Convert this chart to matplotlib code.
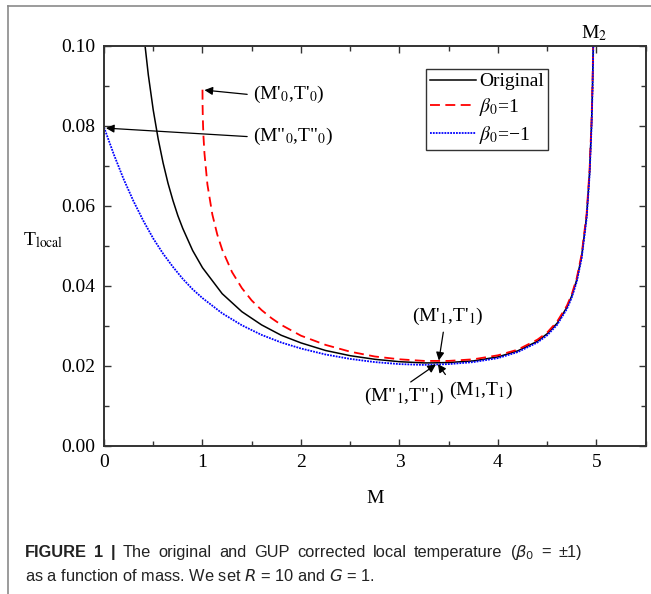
import matplotlib
matplotlib.use('Agg')
import matplotlib.pyplot as plt
from matplotlib.ticker import MultipleLocator
from matplotlib.lines import Line2D

plt.rcParams['font.family'] = ['Liberation Serif', 'DejaVu Serif']
plt.rcParams['mathtext.fontset'] = 'stix'

# local temperature (R = 10, G = 1)
m_orig = [0.40, 0.45, 0.50, 0.55, 0.60, 0.65, 0.70, 0.75, 0.80, 0.90, 1.00, 1.20, 1.40, 1.60,
          1.80, 2.00, 2.25, 2.50, 2.75, 3.00, 3.25, 3.333, 3.50, 3.75, 4.00, 4.20, 4.40,
          4.50, 4.60, 4.70, 4.75, 4.80, 4.85, 4.90, 4.93, 4.95, 4.96, 4.97, 4.98]
t_orig = [0.1037, 0.0927, 0.0839, 0.0767, 0.0707, 0.0656, 0.0613, 0.0575, 0.0543, 0.0488,
          0.0445, 0.0380, 0.0335, 0.0302, 0.0276, 0.0257, 0.0238, 0.0225, 0.0216, 0.0210,
          0.0207, 0.0207, 0.0208, 0.0212, 0.0222, 0.0237, 0.0261, 0.0280, 0.0306, 0.0346,
          0.0375, 0.0415, 0.0474, 0.0574, 0.0682, 0.0804, 0.0897, 0.1034, 0.1263]

# beta0 = 1
m_pos = [1.000, 1.001, 1.003, 1.006, 1.01, 1.02, 1.05, 1.10, 1.15, 1.20, 1.30, 1.40, 1.50,
         1.60, 1.70, 1.80, 2.00, 2.25, 2.50, 2.75, 3.00, 3.25, 3.50, 3.75, 4.00, 4.20,
         4.40, 4.50, 4.60, 4.70, 4.75, 4.80, 4.85, 4.90, 4.93, 4.95, 4.96, 4.97]
t_pos = [0.0890, 0.0851, 0.0824, 0.0798, 0.0773, 0.0731, 0.0653, 0.0578, 0.0528, 0.0490,
         0.0434, 0.0394, 0.0363, 0.0339, 0.0319, 0.0302, 0.0275, 0.0252, 0.0235, 0.0223,
         0.0216, 0.0212, 0.0212, 0.0216, 0.0226, 0.0240, 0.0265, 0.0283, 0.0310, 0.0350,
         0.0379, 0.0419, 0.0479, 0.0580, 0.0689, 0.0812, 0.0906, 0.1044]

# beta0 = -1
m_neg = [0.00, 0.10, 0.20, 0.30, 0.40, 0.50, 0.60, 0.70, 0.80, 0.90, 1.00, 1.20, 1.40, 1.60,
         1.80, 2.00, 2.25, 2.50, 2.75, 3.00, 3.25, 3.50, 3.75, 4.00, 4.20, 4.40, 4.50,
         4.60, 4.70, 4.75, 4.80, 4.85, 4.90, 4.93, 4.95, 4.96, 4.97]
t_neg = [0.0796, 0.0728, 0.0666, 0.0611, 0.0562, 0.0518, 0.0480, 0.0447, 0.0417, 0.0391,
         0.0369, 0.0331, 0.0301, 0.0277, 0.0258, 0.0243, 0.0228, 0.0217, 0.0209, 0.0204,
         0.0202, 0.0204, 0.0209, 0.0219, 0.0234, 0.0258, 0.0276, 0.0302, 0.0342, 0.0371,
         0.0410, 0.0469, 0.0568, 0.0675, 0.0796, 0.0888, 0.1023]

labels = ['Original', r'$\beta_0$=1', r'$\beta_0$=−1']

fig = plt.figure(figsize=(6.51, 5.94), dpi=100)
ax = fig.add_axes([104 / 651, 1 - 445.7 / 594, 541.7 / 651, 400 / 594])

ax.plot(m_orig, t_orig, color='black', lw=1.1, label=labels[0])
ax.plot(m_pos, t_pos, color='red', lw=1.3, ls=(0, (5.5, 3)), label=labels[1])
ax.plot(m_neg, t_neg, color='blue', lw=1.3, ls=(0, (1, 0.6)), label=labels[2])

ax.set_xlim(0, 5.5)
ax.set_ylim(0, 0.10)
ax.xaxis.set_major_locator(MultipleLocator(1))
ax.xaxis.set_minor_locator(MultipleLocator(0.5))
ax.yaxis.set_major_locator(MultipleLocator(0.02))
ax.yaxis.set_minor_locator(MultipleLocator(0.01))
ax.yaxis.set_major_formatter(plt.FormatStrFormatter('%.2f'))
ax.tick_params(which='both', direction='in', top=True, right=True, width=1.0, colors='#333333',
               labelcolor='black', labelsize=14)
ax.tick_params(which='major', length=5, pad=6)
ax.tick_params(which='minor', length=3.5)
for s in ax.spines.values():
    s.set_linewidth(1.4)
    s.set_color('#333333')

ax.set_xlabel('M', fontsize=14, labelpad=14)
ax.set_ylabel(r'T$_{\rm local}$', fontsize=14, rotation=0)
ax.yaxis.set_label_coords(-0.113, 0.49)

leg = ax.legend(loc='upper left', bbox_to_anchor=(0.594, 0.942), borderaxespad=0,
                fontsize=14, frameon=True, fancybox=False, handlelength=2.4,
                handletextpad=0.15, labelspacing=0.3, borderpad=0.2)
leg.get_frame().set_edgecolor('black')
leg.get_frame().set_linewidth(1.0)

arrow = dict(arrowstyle='-|>', color='black', lw=0.9, mutation_scale=12, shrinkA=2, shrinkB=0)
ax.annotate("(M'$_0$,T'$_0$)", xy=(1.02, 0.0889), xytext=(1.51, 0.0877), fontsize=14,
            ha='left', va='center', arrowprops=dict(arrow, relpos=(0, 0.5)))
ax.annotate('(M"$_0$,T"$_0$)', xy=(0.02, 0.0794), xytext=(1.51, 0.0772), fontsize=14,
            ha='left', va='center', arrowprops=dict(arrow, relpos=(0, 0.5)))
ax.annotate("(M'$_1$,T'$_1$)", xy=(3.40, 0.0213), xytext=(3.49, 0.0324), fontsize=14,
            ha='center', va='center', arrowprops=dict(arrow, relpos=(0.45, 0)))
ax.annotate('(M"$_1$,T"$_1$)', xy=(3.37, 0.0203), xytext=(3.05, 0.0122), fontsize=14,
            ha='center', va='center', arrowprops=dict(arrow, relpos=(0.5, 1)))
ax.annotate('(M$_1$,T$_1$)', xy=(3.39, 0.0204), xytext=(3.83, 0.0139), fontsize=14,
            ha='center', va='center', arrowprops=dict(arrow, relpos=(0, 1)))
ax.text(4.98, 0.1006, 'M$_2$', fontsize=14, ha='center', va='bottom')

# grey page frame
fig.add_artist(Line2D([8 / 651, 8 / 651], [0, 1 - 6 / 594], color='#8a8a8a', lw=1.2))
fig.add_artist(Line2D([8 / 651, 1], [1 - 6 / 594, 1 - 6 / 594], color='#8a8a8a', lw=1.2))

# caption: first line justified between x=25 and x=582 px, second line left aligned
cap = dict(fontsize=11.8, family=['Liberation Sans', 'DejaVu Sans'],
           math_fontfamily='dejavusans', va='baseline', color='#222222')
words = [('FIGURE', 'bold'), ('1', 'bold'), ('|', 'bold'), ('The', 'normal'),
         ('original', 'normal'), ('and', 'normal'), ('GUP', 'normal'), ('corrected', 'normal'),
         ('local', 'normal'), ('temperature', 'normal'), (r'($\beta_0$', 'normal'),
         ('=', 'normal'), ('±1)', 'normal')]
fig.canvas.draw()
renderer = fig.canvas.get_renderer()
items = []
for w, weight in words:
    t = fig.text(0, 1 - 557 / 594, w, fontweight=weight, **cap)
    items.append((t, t.get_window_extent(renderer).width))
gap = (582 - 25 - sum(wd for _, wd in items)) / (len(items) - 1)
x = 25.0
for t, wd in items:
    t.set_x(x / 651)
    x += wd + gap
fig.text(25 / 651, 1 - 581 / 594, r'as a function of mass. We set $R$ = 10 and $G$ = 1.', **cap)

fig.savefig('out.png', dpi=100)
